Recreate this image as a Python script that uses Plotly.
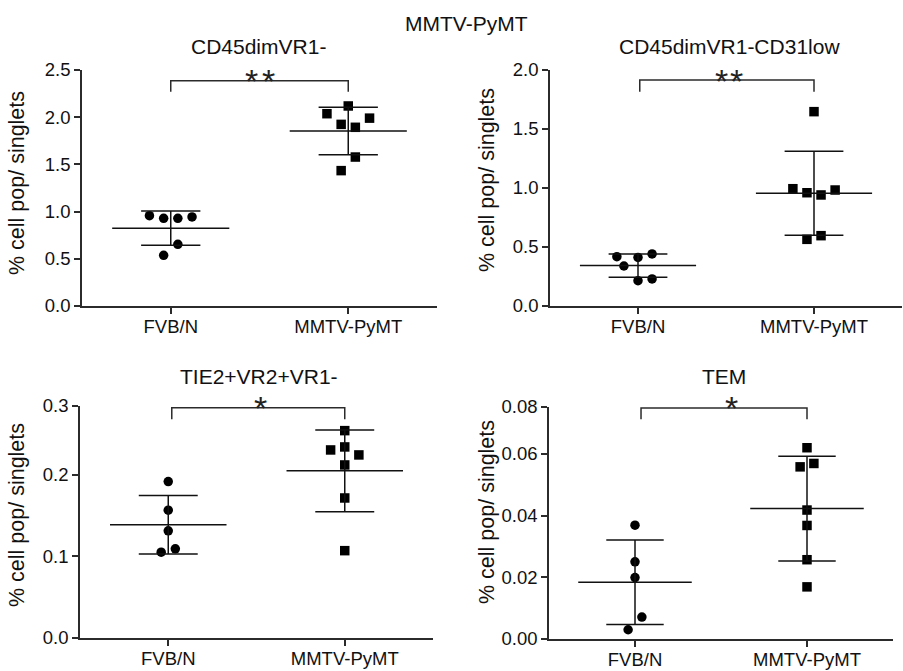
import numpy as np
import plotly.graph_objects as go

W, H = 903, 671
FONT = "Liberation Sans, Arial, sans-serif"
INK = "#111111"
AXC = "#2b2b2b"

groups = ["FVB/N", "MMTV-PyMT"]
main_title = "MMTV-PyMT"
y_title = "% cell pop/ singlets"

# ---- data ----
p1_title = "CD45dimVR1-"
p1_fvb = [0.957, 0.929, 0.929, 0.943, 0.653, 0.537]
p1_mmtv = [2.119, 2.037, 1.990, 1.924, 1.893, 1.578, 1.434]
p1_ticks = [0.0, 0.5, 1.0, 1.5, 2.0, 2.5]
p1_ticktext = ["0.0", "0.5", "1.0", "1.5", "2.0", "2.5"]
p1_sig = "**"

p2_title = "CD45dimVR1-CD31low"
p2_fvb = [0.418, 0.339, 0.412, 0.441, 0.215, 0.229]
p2_mmtv = [1.647, 0.994, 0.960, 0.941, 0.983, 0.565, 0.596]
p2_ticks = [0.0, 0.5, 1.0, 1.5, 2.0]
p2_ticktext = ["0.0", "0.5", "1.0", "1.5", "2.0"]
p2_sig = "**"

p3_title = "TIE2+VR2+VR1-"
p3_fvb = [0.1918, 0.1567, 0.1314, 0.1053, 0.1094]
p3_mmtv = [0.2543, 0.2306, 0.2343, 0.2245, 0.2122, 0.1717, 0.1071]
p3_ticks = [0.0, 0.1, 0.2, 0.2845]
p3_ticktext = ["0.0", "0.1", "0.2", "0.3"]
p3_sig = "*"

p4_title = "TEM"
p4_fvb = [0.0369, 0.0250, 0.0199, 0.0071, 0.0030]
p4_mmtv = [0.0620, 0.0558, 0.0569, 0.0418, 0.0368, 0.0257, 0.0169]
p4_ticks = [0.0, 0.02, 0.04, 0.06, 0.0752]
p4_ticktext = ["0.00", "0.02", "0.04", "0.06", "0.08"]
p4_sig = "*"

# horizontal dot arrangement (in dot widths) as drawn in the picture
p1_fvb_slot = [-1.5, -0.5, 0.5, 1.5, 0.5, -0.5]
p1_mmtv_slot = [0, -1.5, 1.5, -0.5, 0.5, 0.5, -0.5]
p2_fvb_slot = [-1.5, -1, 0, 1, 0, 1]
p2_mmtv_slot = [0, -1.5, -0.5, 0.5, 1.5, -0.5, 0.5]
p3_fvb_slot = [0, 0, 0, -0.5, 0.5]
p3_mmtv_slot = [0, -1, 0, 1, 0, 0, 0]
p4_fvb_slot = [0, 0, 0, 0.5, -0.5]
p4_mmtv_slot = [0, -0.5, 0.5, 0, 0, 0, 0]

# ---- layout geometry (pixels) ----
panels = [
    dict(title=p1_title, fvb=p1_fvb, mmtv=p1_mmtv, fs=p1_fvb_slot, ms=p1_mmtv_slot,
         ticks=p1_ticks, tt=p1_ticktext, sig=p1_sig,
         xpx=(82, 437), ypx=(70, 306), br=(2.387, 2.270), brx=(0, 1),
         tpos=(258, 46), ylab=(17, 183), star=(260, 72), sgap=17),
    dict(title=p2_title, fvb=p2_fvb, mmtv=p2_mmtv, fs=p2_fvb_slot, ms=p2_mmtv_slot,
         ticks=p2_ticks, tt=p2_ticktext, sig=p2_sig,
         xpx=(550, 902), ypx=(70, 306), br=(1.915, 1.816), brx=(0.01, 1),
         tpos=(729, 46), ylab=(487, 180), star=(729, 72), sgap=15),
    dict(title=p3_title, fvb=p3_fvb, mmtv=p3_mmtv, fs=p3_fvb_slot, ms=p3_mmtv_slot,
         ticks=p3_ticks, tt=p3_ticktext, sig=p3_sig,
         xpx=(80, 433), ypx=(406, 638), br=(0.2824, 0.2682), brx=(0.02, 1),
         tpos=(259, 376), ylab=(17, 515), star=(260, 399), sgap=0),
    dict(title=p4_title, fvb=p4_fvb, mmtv=p4_mmtv, fs=p4_fvb_slot, ms=p4_mmtv_slot,
         ticks=p4_ticks, tt=p4_ticktext, sig=p4_sig,
         xpx=(549, 893), ypx=(407, 639), br=(0.0749, 0.0712), brx=(0.035, 1),
         tpos=(724, 376), ylab=(487, 512), star=(731, 399), sgap=0),
]

DOT_STEP = 0.08
MEAN_HALF = 0.33
CAP_HALF = 0.167
LW = 1.5


def px(x):
    return x / W


def py(y):
    return 1 - y / H


fig = go.Figure()
shapes = []
annotations = []
layout = {}

for i, p in enumerate(panels, start=1):
    xa = "x" if i == 1 else f"x{i}"
    ya = "y" if i == 1 else f"y{i}"
    xk = "xaxis" if i == 1 else f"xaxis{i}"
    yk = "yaxis" if i == 1 else f"yaxis{i}"

    layout[xk] = dict(
        domain=[px(p["xpx"][0]), px(p["xpx"][1])], anchor=ya,
        range=[-0.5, 1.5], tickvals=[0, 1], ticktext=groups,
        showline=True, linecolor=AXC, linewidth=LW, ticks="outside",
        ticklen=6, tickwidth=LW, tickcolor=AXC, showgrid=False, zeroline=False,
        tickfont=dict(family=FONT, size=18.5, color=INK), automargin=False,
        ticklabelstandoff=-3, fixedrange=True,
    )
    layout[yk] = dict(
        domain=[py(p["ypx"][1]), py(p["ypx"][0])], anchor=xa,
        range=[p["ticks"][0], p["ticks"][-1]], tickvals=p["ticks"], ticktext=p["tt"],
        showline=True, linecolor=AXC, linewidth=LW, ticks="outside",
        ticklen=6, tickwidth=LW, tickcolor=AXC, showgrid=False, zeroline=False,
        tickfont=dict(family=FONT, size=18.5, color=INK), automargin=False,
        fixedrange=True,
    )

    for gi, (vals, slots, sym) in enumerate(
        [(p["fvb"], p["fs"], "circle"), (p["mmtv"], p["ms"], "square")]
    ):
        v = np.array(vals)
        xs = gi + np.array(slots) * DOT_STEP
        fig.add_trace(go.Scatter(
            x=xs, y=v, mode="markers", xaxis=xa, yaxis=ya,
            marker=dict(symbol=sym, size=9.5, color="black", line=dict(width=0)),
            showlegend=False, cliponaxis=False, hoverinfo="skip",
        ))
        m = v.mean()
        s = v.std(ddof=1)
        line = dict(color=INK, width=LW)
        shapes.append(dict(type="line", xref=xa, yref=ya, x0=gi - MEAN_HALF, x1=gi + MEAN_HALF,
                           y0=m, y1=m, line=line))
        for yy in (m - s, m + s):
            shapes.append(dict(type="line", xref=xa, yref=ya, x0=gi - CAP_HALF, x1=gi + CAP_HALF,
                               y0=yy, y1=yy, line=line))
        shapes.append(dict(type="line", xref=xa, yref=ya, x0=gi, x1=gi,
                           y0=m - s, y1=m + s, line=line))

    # significance bracket
    b_top, b_bot = p["br"]
    bx0, bx1 = p["brx"]
    bl = dict(color=AXC, width=LW)
    shapes.append(dict(type="path", xref=xa, yref=ya,
                       path=f"M {bx0},{b_bot} L {bx0},{b_top} L {bx1},{b_top} L {bx1},{b_bot}",
                       line=bl))
    n = len(p["sig"])
    for k, ch in enumerate(p["sig"]):
        shift = (k - (n - 1) / 2) * p["sgap"]
        annotations.append(dict(text=ch, xref="paper", yref="paper",
                                x=px(p["star"][0]), y=py(p["star"][1]),
                                xanchor="center", yanchor="middle", showarrow=False,
                                xshift=shift, yshift=-9,
                                font=dict(family=FONT, size=34, color="#222222")))
    # panel title
    annotations.append(dict(text=p["title"], xref="paper", yref="paper",
                            x=px(p["tpos"][0]), y=py(p["tpos"][1]),
                            xanchor="center", yanchor="middle", showarrow=False,
                            font=dict(family=FONT, size=21, color=INK)))
    # y-axis title
    annotations.append(dict(text=y_title, xref="paper", yref="paper",
                            x=px(p["ylab"][0]), y=py(p["ylab"][1]), textangle=-90,
                            xanchor="center", yanchor="middle", showarrow=False,
                            font=dict(family=FONT, size=21.5, color=INK)))

annotations.append(dict(text=main_title, xref="paper", yref="paper",
                        x=px(466), y=py(24), xanchor="center", yanchor="middle",
                        showarrow=False, font=dict(family=FONT, size=21, color=INK)))

fig.update_layout(
    width=W, height=H, margin=dict(l=0, r=0, t=0, b=0),
    paper_bgcolor="white", plot_bgcolor="white",
    shapes=shapes, annotations=annotations, showlegend=False,
    **layout,
)

fig.write_html("out.html", config={"displayModeBar": False})
